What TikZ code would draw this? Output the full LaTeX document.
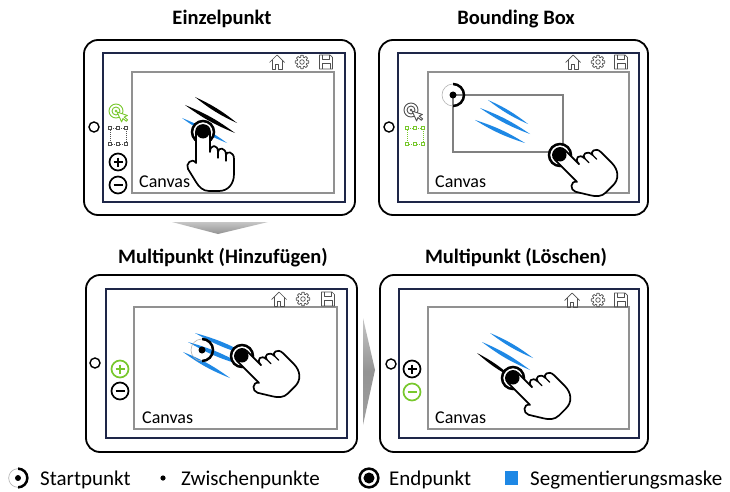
\documentclass[tikz,border=0pt]{standalone}
\usepackage{fontspec}
\setmainfont{Carlito}
\definecolor{screenblue}{RGB}{30,38,72}
\definecolor{maskblue}{RGB}{30,136,229}
\definecolor{toolgreen}{RGB}{120,200,45}
\definecolor{canvasgray}{RGB}{145,145,145}
\definecolor{icongray}{RGB}{80,80,80}
\definecolor{boxgray}{RGB}{128,128,128}

% tapered brush stroke between two points
\newcommand{\brushstroke}[3]{\fill[#1] #2 to[bend left=7] #3 to[bend left=7] #2;}

\tikzset{
  tabletbody/.style={draw=black, line width=1.8pt, rounded corners=14pt, fill=white},
  screenframe/.style={draw=screenblue, line width=1.5pt},
  canvasframe/.style={draw=canvasgray, line width=1.2pt},
  titletext/.style={font=\fontsize{20.5}{24}\selectfont\bfseries, anchor=base, inner sep=0pt},
  canvastext/.style={font=\fontsize{18}{22}\selectfont, anchor=base west, inner sep=0pt},
  legendtext/.style={font=\fontsize{21}{25}\selectfont, anchor=base west, inner sep=0pt},
  icon/.style={draw=icongray, line width=0.7pt, line join=round},
  homebtn/.pic={\draw[line width=1.4pt] (0,0) circle (5pt);},
  homeicon/.pic={
    \draw[icon] (-7.5,0.5) -- (0,-7) -- (7.5,0.5);
    \draw[icon] (-5,-1.8) -- (-5,7) -- (-1.8,7) -- (-1.8,2) -- (1.8,2) -- (1.8,7) -- (5,7) -- (5,-1.8);
  },
  gearicon/.pic={
    \draw[icon] (0,0) circle (2.3pt);
    \draw[icon] (-10:6.8) \foreach \a in {0,45,...,315} { -- (\a-10:6.8) -- (\a+10:6.8) -- (\a+16:4.9) -- (\a+29:4.9)} -- cycle;
  },
  floppyicon/.pic={
    \draw[icon] (-6.5,-7) -- (4,-7) -- (6.5,-4.5) -- (6.5,7) -- (-6.5,7) -- cycle;
    \draw[icon] (-3.8,-7) -- (-3.8,-2.6) -- (3,-2.6) -- (3,-7);
    \draw[icon] (-4,7) -- (-4,1.5) -- (4,1.5) -- (4,7);
  },
  targeticon/.pic={
    \draw[#1, line width=0.9pt] (0,0) circle (7pt) (0,0) circle (4pt);
    \fill[#1] (0,0) circle (1.4pt);
    \begin{scope}[shift={(1,1)}, rotate=25]
      \draw[#1, fill=white, line width=0.9pt, line join=round]
        (0,0) -- (0,11) -- (2.6,8.4) -- (4.6,12.4) -- (6.3,11.6) -- (4.3,7.6) -- (8,7.6) -- cycle;
    \end{scope}
  },
  bboxicon/.pic={
    \draw[#1, line width=0.6pt, dash pattern=on 1pt off 1pt] (-8,-8) rectangle (8,8);
    \foreach \px/\py in {-8/-8,0/-8,8/-8,-8/8,0/8,8/8}
      \draw[#1, fill=white, line width=0.6pt] (\px-1.7,\py-1.7) rectangle (\px+1.7,\py+1.7);
  },
  plusicon/.pic={
    \draw[#1, line width=1.7pt] (0,0) circle (8.5pt);
    \draw[#1, line width=1.7pt] (-4.5,0) -- (4.5,0) (0,-4.5) -- (0,4.5);
  },
  minusicon/.pic={
    \draw[#1, line width=1.7pt] (0,0) circle (8.5pt);
    \draw[#1, line width=2.6pt] (-4.5,0) -- (4.5,0);
  },
  % start point: thin circle, heavy right half, centre dot
  startmark/.pic={
    \draw[gray!60, line width=0.6pt] (0,0) circle (11pt);
    \begin{scope}
      \clip (0,-14) rectangle (14,14);
      \draw[black, line width=2.5pt] (0,0) circle (11pt);
    \end{scope}
    \fill (0,0) circle (3.5pt);
  },
  endring/.pic={\draw[black, line width=2.5pt, fill=white] (0,0) circle (11pt);},
  enddisc/.pic={\fill[black] (0,0) circle (6.5pt);},
  hand/.pic={
    \draw[fill=white, line width=1.7pt, line join=round]
      (-7,0) .. controls (-7,-9.3) and (7,-9.3) .. (7,0)
      -- (7,20)
      .. controls (7,12) and (15,12) .. (15,20)
      .. controls (15,15) and (23,15) .. (23,23)
      .. controls (23,19) and (31,19) .. (31,27)
      -- (31,42)
      .. controls (31,52) and (25,59) .. (16,59)
      -- (6,59)
      .. controls (0,59) and (-4,55) .. (-7,50)
      -- (-15,37)
      .. controls (-18,32) and (-11,25) .. (-7,31)
      -- cycle;
    \draw[line width=1.3pt, line cap=round] (15,20) -- (15,26) (23,23) -- (23,29);
  },
}

\begin{document}
\begin{tikzpicture}[x=1pt, y=-1pt]
\useasboundingbox (0,0) rectangle (730,492);
\fill[white] (0,0) rectangle (730,492);

% ---------- titles ----------
\node[titletext] (title1) at (222,25) {Einzelpunkt};
\node[titletext] (title2) at (516,25) {Bounding Box};
\node[titletext] (title3) at (223,263) {Multipunkt (Hinzufügen)};
\node[titletext] (title4) at (516,263) {Multipunkt (Löschen)};

% ---------- flow arrows ----------
\shade[top color=gray!45, bottom color=gray!85] (172,222) -- (268,222) -- (218,234) -- cycle;
\shade[top color=gray!45, bottom color=gray!75, middle color=gray!85] (363,318) -- (375,370) -- (363,425) -- cycle;

% ---------- tablet 1: Einzelpunkt ----------
\draw[tabletbody] (84,40) rectangle (355,215);
\draw[screenframe] (103,53) rectangle (345,202);
\draw[canvasframe] (132,72) rectangle (334,193);
\pic at (94,127) {homebtn};
\pic at (277,62) {homeicon};
\pic at (302,62) {gearicon};
\pic at (326,62) {floppyicon};
\pic at (116,111) {targeticon=toolgreen};
\pic at (118,136) {bboxicon=icongray};
\pic at (118,162) {plusicon=black};
\pic at (118,185) {minusicon=black};
\node[canvastext] (canvas1) at (139,187) {Canvas};
\brushstroke{black}{(195,97)}{(237,123)}
\brushstroke{black}{(185,105)}{(235,133)}
\brushstroke{maskblue}{(182,118)}{(227,143)}
\pic at (203,132) {endring};
\pic at (203,132) {hand};
\pic at (203,132) {enddisc};

% ---------- tablet 2: Bounding Box ----------
\draw[tabletbody] (379,40) rectangle (648,215);
\draw[screenframe] (398,53) rectangle (639,202);
\draw[canvasframe] (428,72) rectangle (629,193);
\pic at (389,127) {homebtn};
\pic at (573,62) {homeicon};
\pic at (598,62) {gearicon};
\pic at (621,62) {floppyicon};
\pic at (411,110) {targeticon=icongray};
\pic at (415,136) {bboxicon=toolgreen};
\node[canvastext] (canvas2) at (435,187) {Canvas};
\draw[boxgray, line width=2.2pt] (453,95) rectangle (563,152);
\brushstroke{maskblue}{(488,100)}{(528,124)}
\brushstroke{maskblue}{(480,108)}{(530,134)}
\brushstroke{maskblue}{(475,120)}{(525,143)}
\pic at (453,95) {startmark};
\pic at (560,155) {endring};
\pic[rotate=45] at (560,155) {hand};
\pic at (560,155) {enddisc};

% ---------- tablet 3: Multipunkt (Hinzufuegen) ----------
\draw[tabletbody] (86,275) rectangle (357,452);
\draw[screenframe] (106,289) rectangle (347,438);
\draw[canvasframe] (134,307) rectangle (337,429);
\pic at (95,363) {homebtn};
\pic at (279,299) {homeicon};
\pic at (303,299) {gearicon};
\pic at (328,299) {floppyicon};
\pic at (120,369) {plusicon=toolgreen};
\pic at (120,391) {minusicon=black};
\node[canvastext] (canvas3) at (142,423) {Canvas};
\brushstroke{maskblue}{(195,333)}{(250,356)}
\brushstroke{maskblue}{(188,342)}{(245,366)}
\brushstroke{maskblue}{(183,352)}{(230,378)}
\pic at (202,350) {startmark};
\pic at (242,356) {endring};
\pic[rotate=45] at (242,356) {hand};
\pic at (242,356) {enddisc};

% ---------- tablet 4: Multipunkt (Loeschen) ----------
\draw[tabletbody] (380,275) rectangle (648,452);
\draw[screenframe] (399,289) rectangle (639,438);
\draw[canvasframe] (428,307) rectangle (629,429);
\pic at (391,364) {homebtn};
\pic at (572,300) {homeicon};
\pic at (598,300) {gearicon};
\pic at (621,300) {floppyicon};
\pic at (412,369) {plusicon=black};
\pic at (412,392) {minusicon=toolgreen};
\node[canvastext] (canvas4) at (435,423) {Canvas};
\brushstroke{maskblue}{(490,333)}{(533,358)}
\brushstroke{maskblue}{(482,342)}{(530,370)}
\brushstroke{black}{(477,353)}{(513,378)}
\pic at (513,378) {endring};
\pic[rotate=45] at (513,378) {hand};
\pic at (513,378) {enddisc};

% ---------- legend ----------
\pic[scale=0.85] at (18,478) {startmark};
\node[legendtext] (lgstart) at (40,485) {Startpunkt};
\fill (163,478) circle (2.6pt);
\node[legendtext] (lgmid) at (181,485) {Zwischenpunkte};
\pic[scale=0.85] at (369,478) {endring};
\pic[scale=0.85] at (369,478) {enddisc};
\node[legendtext] (lgend) at (389,485) {Endpunkt};
\fill[maskblue] (505,471) rectangle (518,485);
\node[legendtext] (lgmask) at (530,485) {Segmentierungsmaske};
\end{tikzpicture}
\end{document}
